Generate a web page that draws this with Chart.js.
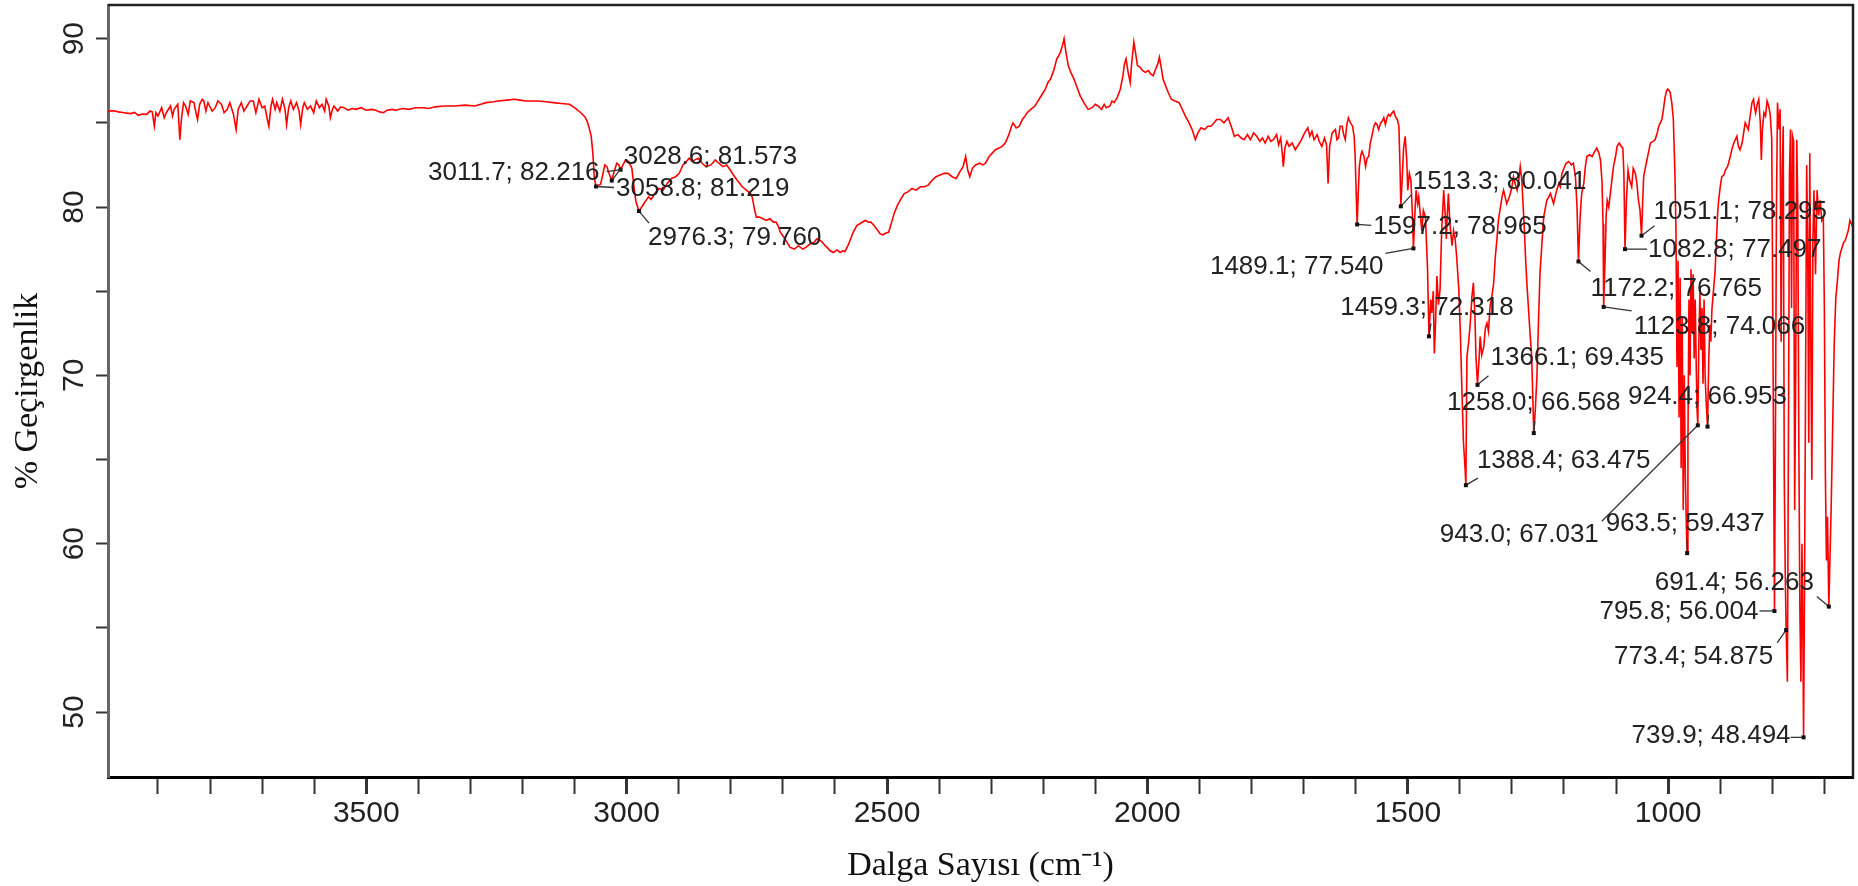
<!DOCTYPE html>
<html>
<head>
<meta charset="utf-8">
<title>FTIR spektrumu</title>
<script src="https://cdn.jsdelivr.net/npm/chart.js@4.4.1/dist/chart.umd.min.js"></script>
<style>
  html, body { margin: 0; padding: 0; background: #fff; }
  #wrap { width: 1858px; height: 886px; }
</style>
</head>
<body>
<div id="wrap"><canvas id="irChart" width="1858" height="886"></canvas></div>
<script>
// Spektrum verileri: [dalga sayısı (cm-1), % geçirgenlik]
const baseline4000 = [
  [3996, 85.7], [3985, 85.72], [3976, 85.65], [3965, 85.6], [3953, 85.55], [3945, 85.62], [3938, 85.45],
  [3930, 85.52], [3922, 85.5], [3915, 85.7], [3911, 85.65], [3907, 84.8], [3904, 85.6], [3900, 85.4],
  [3893, 85.9], [3888, 85.3], [3884, 85.6], [3876, 86.0], [3872, 85.4], [3869, 85.8], [3862, 86.1],
  [3858, 84.0], [3855, 85.2], [3851, 86.2], [3847, 86.0], [3842, 85.5], [3838, 86.3], [3831, 86.2],
  [3827, 85.6], [3824, 85.2], [3820, 86.1], [3815, 86.4], [3812, 86.3], [3808, 85.7], [3804, 86.2],
  [3801, 86.0], [3796, 85.7], [3790, 85.9], [3785, 86.3], [3778, 86.1], [3773, 85.6], [3767, 85.8],
  [3762, 86.2], [3755, 85.5], [3750, 84.6], [3746, 85.8], [3740, 86.2], [3735, 85.7], [3729, 86.0],
  [3723, 86.3], [3717, 86.3], [3712, 85.6], [3706, 86.4], [3700, 85.9], [3695, 86.0], [3690, 85.2],
  [3687, 84.8], [3683, 86.0], [3680, 86.4], [3675, 85.8], [3672, 86.2], [3666, 85.7], [3661, 86.4],
  [3656, 85.8], [3653, 84.9], [3649, 85.9], [3645, 86.3], [3640, 85.8], [3634, 86.2], [3629, 85.7],
  [3626, 84.9], [3622, 85.9], [3619, 86.2], [3613, 85.8], [3607, 86.0], [3601, 85.6], [3596, 86.3],
  [3590, 85.9], [3585, 86.1], [3580, 85.7], [3577, 86.4], [3572, 86.0], [3569, 85.3], [3565, 85.8],
  [3562, 86.0], [3555, 85.7], [3549, 85.95], [3543, 85.9], [3535, 85.75], [3527, 85.85], [3520, 85.8],
  [3510, 85.9], [3500, 85.75], [3490, 85.8], [3482, 85.75], [3474, 85.65], [3467, 85.6], [3460, 85.75],
  [3450, 85.8], [3444, 85.75], [3430, 85.85], [3418, 85.8], [3406, 85.9], [3390, 85.9], [3380, 85.85],
  [3368, 85.95], [3350, 86.0], [3330, 86.0], [3310, 86.05], [3292, 86.0], [3280, 86.1], [3270, 86.2],
  [3255, 86.25], [3247, 86.3], [3230, 86.35], [3216, 86.4], [3205, 86.35], [3194, 86.3], [3180, 86.3],
  [3171, 86.3], [3155, 86.25], [3141, 86.2], [3125, 86.15], [3110, 86.1], [3100, 85.9], [3088, 85.6],
  [3080, 85.35], [3076, 85.1], [3072, 84.7], [3068, 84.2], [3065, 83.2], [3062, 81.7]
];

const ch3000 = [
  [3058.8, 81.22], [3054, 81.3], [3050, 81.35], [3046, 81.9], [3042, 82.5], [3038, 82.4], [3034, 82.0],
  [3028.6, 81.57], [3024, 82.1], [3019, 82.6], [3015, 82.5], [3011.7, 82.22], [3007, 82.5], [3002, 82.8],
  [2996, 82.7], [2990, 82.3], [2986, 81.2], [2982, 80.3], [2976.3, 79.76], [2971, 80.0], [2965, 80.3],
  [2958, 80.6], [2953, 80.45], [2946, 80.8], [2938, 81.1], [2930, 81.0], [2922, 81.4], [2914, 81.7],
  [2906, 81.8], [2899, 82.0], [2892, 82.5], [2888, 82.6], [2880, 82.9], [2874, 82.7], [2869, 82.8],
  [2862, 82.9], [2855, 82.6], [2848, 82.4], [2838, 82.5], [2830, 82.8], [2823, 82.6], [2815, 82.4],
  [2808, 82.5], [2801, 82.2], [2795, 81.9], [2788, 81.6], [2778, 81.2], [2770, 81.0], [2762, 80.8],
  [2759, 80.6], [2754, 79.8], [2751, 79.4], [2745, 79.4], [2738, 79.3], [2732, 79.2], [2725, 79.3],
  [2718, 79.1], [2713, 79.1], [2708, 78.8], [2705, 78.5], [2698, 78.2], [2692, 77.9], [2686, 77.6],
  [2678, 77.5], [2670, 77.7], [2662, 77.5], [2656, 77.6], [2648, 77.8], [2640, 77.9], [2635, 78.1],
  [2630, 78.05], [2624, 77.9], [2619, 77.7], [2615, 77.6], [2609, 77.4], [2603, 77.3], [2596, 77.45],
  [2590, 77.3], [2585, 77.4], [2581, 77.35], [2575, 77.7], [2570, 78.1], [2565, 78.5], [2558, 78.9],
  [2550, 79.05], [2542, 79.2], [2535, 79.1], [2531, 79.1], [2525, 78.9], [2519, 78.65], [2513, 78.4],
  [2508, 78.35], [2502, 78.45], [2497, 78.5], [2492, 79.0], [2486, 79.65], [2480, 80.1], [2473, 80.5],
  [2467, 80.8], [2460, 80.9], [2452, 81.1], [2444, 81.0], [2436, 81.2], [2428, 81.2], [2421, 81.3],
  [2413, 81.6], [2406, 81.8], [2398, 81.9], [2390, 82.0], [2383, 82.0], [2375, 81.8], [2367, 81.7],
  [2360, 82.1], [2354, 82.4], [2349, 83.0], [2345, 82.2], [2341, 81.8], [2336, 82.3], [2330, 82.5],
  [2322, 82.6], [2316, 82.5], [2311, 82.6], [2304, 83.0]
];

const hump2200 = [
  [2298, 83.2], [2292, 83.4], [2285, 83.5], [2279, 83.6], [2273, 83.8], [2266, 84.3], [2261, 84.8],
  [2258, 85.0], [2252, 84.7], [2246, 84.8], [2240, 85.2], [2235, 85.4], [2231, 85.6], [2224, 85.8],
  [2216, 86.0], [2212, 86.2], [2208, 86.4], [2202, 86.7], [2196, 87.0], [2191, 87.4], [2186, 87.6],
  [2180, 88.1], [2174, 88.8], [2170, 89.0], [2167, 89.2], [2163, 89.6], [2160, 90.0], [2157, 89.3],
  [2152, 88.4], [2147, 88.0], [2141, 87.6], [2135, 87.1], [2129, 86.6], [2122, 86.2], [2114, 85.8],
  [2106, 85.9], [2100, 86.1], [2095, 86.0], [2088, 85.8], [2083, 86.1], [2079, 85.9], [2072, 86.0],
  [2068, 86.3], [2064, 86.2], [2058, 86.5], [2052, 87.0], [2047, 87.8], [2044, 88.5], [2041, 88.8],
  [2037, 88.0], [2033, 87.4], [2030, 88.6], [2026, 89.8], [2023, 89.2], [2019, 88.4], [2014, 88.3],
  [2009, 88.1], [2004, 88.0], [1998, 88.1], [1994, 87.9], [1989, 87.8], [1984, 88.2], [1980, 88.5],
  [1977, 88.9], [1973, 88.2], [1970, 87.6], [1965, 87.2], [1960, 86.8], [1954, 86.4], [1947, 86.3],
  [1939, 86.2], [1933, 85.8], [1927, 85.4], [1920, 85.0], [1914, 84.6], [1908, 84.0], [1903, 84.4],
  [1897, 84.7], [1890, 84.6], [1884, 84.8], [1878, 84.8], [1872, 85.0]
];

const band1600 = [
  [1867, 85.2], [1860, 85.2], [1853, 85.0], [1845, 85.3], [1839, 84.8], [1833, 84.2], [1826, 84.3],
  [1820, 84.1], [1814, 84.0], [1808, 84.3], [1802, 84.0], [1796, 84.4], [1790, 84.2], [1784, 83.9],
  [1779, 84.1], [1774, 83.8], [1768, 84.2], [1763, 83.9], [1758, 84.0], [1752, 84.3], [1748, 83.7],
  [1744, 84.1], [1741, 83.2], [1739, 82.4], [1736, 83.5], [1732, 83.9], [1728, 83.6], [1722, 83.8],
  [1716, 83.4], [1710, 83.7], [1704, 84.0], [1698, 84.4], [1692, 84.7], [1688, 84.2], [1684, 84.5],
  [1680, 84.0], [1674, 84.3], [1670, 83.9], [1665, 83.6], [1660, 84.1], [1656, 83.7], [1653, 81.4],
  [1650, 83.6], [1645, 84.4], [1639, 84.6], [1636, 84.0], [1633, 84.1], [1630, 84.8], [1626, 84.8],
  [1623, 84.3], [1620, 84.0], [1617, 84.9], [1614, 85.3], [1610, 85.0], [1606, 84.8], [1603, 84.2],
  [1601, 83.0], [1599, 80.8], [1597.2, 78.97], [1595, 80.9], [1593, 82.4], [1590, 83.1], [1588, 83.3],
  [1584, 83.0], [1581, 82.4], [1578, 82.9], [1575, 83.0], [1572, 83.8], [1569, 84.2], [1565, 84.8],
  [1562, 85.0], [1559, 84.9], [1556, 84.6], [1552, 85.0], [1549, 85.1], [1546, 85.3], [1543, 84.9],
  [1540, 85.3], [1537, 85.5], [1534, 85.4], [1530, 85.6], [1527, 85.7], [1524, 85.4], [1520, 85.2],
  [1517, 84.8], [1515, 82.5], [1513.3, 80.04], [1511, 81.5], [1508, 83.5], [1505, 84.2], [1502, 82.8],
  [1500, 81.0], [1497, 82.0], [1494, 81.6], [1491, 79.5], [1489.1, 77.54], [1486, 79.8], [1484, 81.0],
  [1481, 80.2], [1479, 80.6], [1476, 79.6], [1473, 78.6], [1470, 79.8], [1466, 79.4], [1464, 77.8],
  [1462, 76.3], [1459.3, 72.32], [1456, 74.5], [1454, 73.7], [1451, 75.0], [1449, 71.3], [1447, 72.8],
  [1444, 75.9], [1441, 74.2], [1438, 75.1], [1435, 78.5], [1431, 81.0], [1428, 79.5], [1426, 78.1],
  [1424, 79.6], [1422, 80.8], [1419, 79.0], [1415, 77.7], [1412, 78.6], [1409, 78.1], [1406, 77.0],
  [1402, 75.1], [1399, 72.5], [1396, 69.1], [1393, 66.0], [1390, 64.5], [1388.4, 63.48], [1386.4, 71.1],
  [1383, 72.0], [1380, 73.1], [1377, 74.6], [1374, 75.5], [1371, 73.5], [1369, 71.1], [1366.1, 69.44],
  [1363, 71.0], [1361, 72.3], [1358, 71.2], [1354, 71.7], [1351, 72.8], [1348, 73.1], [1345, 72.6],
  [1342, 74.1], [1338, 74.8], [1335, 75.5], [1332, 77.0], [1329, 78.0], [1326, 79.2], [1322, 80.0],
  [1319, 80.6], [1316, 81.0], [1313, 80.6], [1310, 80.2], [1306, 80.5], [1303, 80.8], [1300, 81.2],
  [1297, 81.8], [1293, 81.3], [1290, 81.0], [1287, 81.6], [1284, 82.4], [1281, 81.6], [1279, 80.4],
  [1276, 78.6], [1274, 77.1], [1271, 75.3], [1268, 73.9], [1265, 72.4], [1262, 71.1], [1260, 68.8],
  [1258, 66.57], [1255, 68.0], [1252, 69.9], [1249, 73.2], [1246, 76.1], [1242, 78.0]
];

const finger1200 = [
  [1239, 79.4], [1236, 79.9], [1233, 80.4], [1229, 80.6], [1226, 80.8], [1223, 80.5], [1220, 80.2],
  [1217, 80.6], [1214, 81.0], [1210, 81.4], [1207, 81.2], [1204, 82.0], [1200, 82.3], [1196, 82.6],
  [1191, 82.7], [1186, 82.5], [1182, 82.6], [1178, 81.8], [1175, 80.0], [1172.2, 76.77], [1169, 79.4],
  [1166, 80.8], [1162, 81.4], [1159, 82.4], [1156, 83.0], [1151, 83.1], [1146, 83.0], [1141, 83.3],
  [1137, 83.5], [1133, 83.2], [1130, 82.8], [1127, 81.5], [1125, 79.0], [1123.8, 74.07], [1121, 77.0],
  [1119, 79.5], [1117, 80.4], [1114, 80.0], [1111, 80.8], [1108, 81.6], [1105, 82.4], [1101, 83.0],
  [1098, 83.6], [1094, 83.8], [1090, 83.6], [1087, 83.5], [1085, 82.0], [1082.8, 77.5], [1080, 80.5],
  [1077, 82.2], [1074, 81.6], [1070, 81.2], [1067, 82.3], [1063, 82.0], [1060, 81.4], [1057, 80.4],
  [1054, 79.8], [1051.1, 78.3], [1049, 80.2], [1047, 81.8], [1044, 82.3], [1042, 82.6], [1038, 83.2],
  [1034, 83.8], [1029, 83.9], [1025, 84.0], [1021, 84.4], [1018, 84.8], [1015, 85.0], [1012, 85.2],
  [1009, 85.8], [1006, 86.5], [1003, 86.9], [1001, 87.0], [998, 86.9], [996, 86.8], [993, 86.2],
  [990, 85.2]
];

const finger900 = [
  [987, 82.0], [985, 78.8], [983, 70.5], [981, 76.8], [979, 67.5], [977, 75.8], [975, 64.5], [973, 73.5],
  [971, 62.0], [969, 70.0], [967, 64.0], [965, 61.0], [963.5, 59.44], [962, 66.0], [960, 74.5], [958, 70.0],
  [956, 76.3], [954, 72.5], [952, 76.0], [950, 71.0], [948, 74.5], [946, 70.5], [944.5, 68.0], [943, 67.03],
  [941, 72.0], [939, 74.9], [937, 71.5], [935, 74.0], [933, 69.5], [931, 74.5], [929, 70.0], [927, 68.5],
  [924.4, 66.95], [922, 70.9], [920, 73.0], [918, 72.0], [916, 73.9], [913, 75.0], [910, 76.1], [907, 78.2],
  [905, 79.6], [903, 80.4], [900, 81.2], [897, 81.8], [893, 81.9], [890, 82.2], [886, 82.4], [884, 82.6],
  [880, 83.1], [877, 83.5], [874, 83.8], [871, 84.0], [868, 84.2], [865, 83.6], [862, 83.4], [858, 83.8],
  [855, 84.4], [852, 85.0], [849, 84.8], [846, 84.6], [843, 85.3], [839, 86.2], [836, 86.4], [834, 85.9],
  [832, 85.6], [829, 86.1], [826, 86.4], [823, 85.0], [821, 82.8], [819, 84.6], [816, 85.6], [813, 85.4],
  [810, 86.3], [807, 86.0], [804, 85.5], [801, 84.0], [798, 68.0], [795.8, 56.0], [794, 66.0], [792, 80.0],
  [790, 86.2], [787, 84.6], [785, 85.8], [783, 72.0], [781, 82.0], [779, 84.8], [777, 64.0], [775, 58.0],
  [773.4, 54.88], [771, 51.8], [769, 66.0], [767, 82.0], [765, 84.6], [763, 74.0], [761, 84.2], [759, 83.9],
  [757, 62.0], [755, 70.0], [753, 84.0], [751, 80.0], [749, 66.0], [747, 56.0], [745, 51.8], [743, 60.0],
  [741, 54.0], [739.9, 48.49], [738, 58.0], [736, 70.0], [734, 82.5], [732, 78.0], [730, 66.0], [728, 83.2],
  [726, 72.0], [724, 63.8], [722, 78.0], [720, 81.0], [717, 76.0], [714, 81.0], [711, 79.5], [708, 80.4],
  [705, 79.2], [702, 79.4], [700, 74.0], [698, 64.0], [696, 59.0], [694, 61.6], [691.4, 56.26], [689, 59.5],
  [687, 62.0], [684, 67.0], [681, 72.0], [678, 74.6], [675, 75.6], [672, 76.8], [669, 77.3], [666, 77.6],
  [663, 77.9], [660, 78.0], [657, 78.3], [654, 78.6], [651, 79.2], [648, 79.0], [645, 78.8]
];

// İşaretlenen pikler
const peakWavenumbers = [3011.7, 3028.6, 3058.8, 2976.3, 1597.2, 1513.3, 1489.1, 1459.3, 1388.4, 1366.1, 1258.0,
  1172.2, 1123.8, 1082.8, 1051.1, 963.5, 943.0, 924.4, 795.8, 773.4, 739.9, 691.4];
const peakTransmittance = [82.216, 81.573, 81.219, 79.760, 78.965, 80.041, 77.540, 72.318, 63.475, 69.435, 66.568,
  76.765, 74.066, 77.497, 78.295, 59.437, 67.031, 66.953, 56.004, 54.875, 48.494, 56.263];

// Eksen etiketleri
const xTickLabels = [3500, 3000, 2500, 2000, 1500, 1000];
const yTickLabels = [50, 60, 70, 80, 90];

const spectrum = [].concat(baseline4000, ch3000, hump2200, band1600, finger1200, finger900)
  .map(p => ({ x: p[0], y: p[1] }));

// Etiket yerleşimi: [metin dx, metin dy, hizalama, çizgi ucu dx, çizgi ucu dy] (piksel, pik noktasına göre)
const labelLayout = [
  [-21, 3, 'right', -14, 2], [12, -24, 'left', 9, -12], [20, 2, 'left', 18, 1], [9, 27, 'left', 10, 12],
  [16, 2, 'left', 14, 1], [12, -24, 'left', 11, -12], [-30, 18, 'right', -28, 5], [-2, -28, 'center', 2, -13],
  [11, -24, 'left', 12, -7], [13, -27, 'left', 11, -9], [0, -30, 'center', 1, -12], [12, 27, 'left', 12, 10],
  [30, 20, 'left', 28, 4], [23, 1, 'left', 22, 0], [12, -24, 'left', 13, -10], [-2, -29, 'center', 0, -14],
  [-99, 110, 'right', -96, 96], [0, -30, 'center', 1, -12], [-16, 1, 'right', -15, 0], [-13, 27, 'right', -9, 13],
  [-13, -2, 'right', -13, 0], [-15, -24, 'right', -12, -10]
];

// Grafik çerçevesinin üst ve sağ kenarı
const framePlugin = {
  id: 'frame',
  afterDraw(chart) {
    const { ctx, chartArea: a } = chart;
    ctx.save();
    ctx.strokeStyle = '#222';
    ctx.lineWidth = 2.5;
    ctx.beginPath();
    ctx.moveTo(a.left, a.top);
    ctx.lineTo(a.right, a.top);
    ctx.lineTo(a.right, a.bottom);
    ctx.stroke();
    ctx.restore();
  }
};

// Pik etiketleri ve bağlantı çizgileri
const peakLabelPlugin = {
  id: 'peakLabels',
  afterDatasetsDraw(chart) {
    const { ctx, scales: { x, y } } = chart;
    ctx.save();
    ctx.font = '26px "Liberation Sans", Arial, sans-serif';
    ctx.textBaseline = 'middle';
    peakWavenumbers.forEach((wn, i) => {
      const t = peakTransmittance[i];
      const px = x.getPixelForValue(wn);
      const py = y.getPixelForValue(t);
      const [dx, dy, align, lx, ly] = labelLayout[i];
      ctx.strokeStyle = '#333';
      ctx.lineWidth = 1.3;
      ctx.beginPath();
      ctx.moveTo(px, py);
      ctx.lineTo(px + lx, py + ly);
      ctx.stroke();
      ctx.fillStyle = '#111';
      ctx.fillRect(px - 2, py - 2, 4, 4);
      ctx.fillStyle = '#222';
      ctx.textAlign = align;
      ctx.fillText(wn.toFixed(1) + '; ' + t.toFixed(3), px + dx, py + dy);
    });
    ctx.restore();
  }
};

const tickFont = { family: '"Liberation Sans", Arial, sans-serif', size: 30 };
const titleFont = { family: '"Liberation Serif", "Times New Roman", serif', size: 34 };

const ctx = document.getElementById('irChart').getContext('2d');
const chart = new Chart(ctx, {
  type: 'line',
  data: {
    datasets: [{
      data: spectrum,
      borderColor: '#ff0000',
      borderWidth: 1.6,
      pointRadius: 0,
      tension: 0,
      fill: false
    }]
  },
  options: {
    responsive: false,
    devicePixelRatio: 1,
    animation: false,
    layout: { padding: { top: 5, right: 5, left: 0, bottom: 0 } },
    plugins: { legend: { display: false }, tooltip: { enabled: false } },
    scales: {
      x: {
        type: 'linear',
        reverse: true,
        min: 645,
        max: 3996,
        afterFit: scale => {
          scale.height = 109;
          scale.paddingLeft = 0;
          scale.paddingRight = 0;
        },
        border: { display: true, color: '#000', width: 3 },
        grid: {
          drawOnChartArea: false,
          drawTicks: true,
          tickLength: 17,
          tickColor: '#333',
          tickWidth: c => (c.tick && c.tick.value % 500 === 0) ? 3 : 2
        },
        ticks: {
          stepSize: 100,
          includeBounds: false,
          autoSkip: false,
          minRotation: 0,
          maxRotation: 0,
          padding: 2,
          color: '#222',
          font: tickFont,
          callback: v => xTickLabels.includes(v) ? String(v) : ''
        },
        title: {
          display: true,
          text: 'Dalga Sayısı (cm⁻¹)',
          color: '#111',
          font: titleFont,
          padding: { top: 12, bottom: 0 }
        }
      },
      y: {
        type: 'linear',
        min: 46.14,
        max: 92.0,
        afterFit: scale => {
          scale.width = 108;
          scale.paddingTop = 0;
          scale.paddingBottom = 0;
        },
        border: { display: true, color: '#666', width: 3 },
        grid: { drawOnChartArea: false, drawTicks: true, tickLength: 12, tickColor: '#333', tickWidth: 2 },
        ticks: {
          stepSize: 5,
          includeBounds: false,
          minRotation: 90,
          maxRotation: 90,
          crossAlign: 'center',
          padding: 5,
          color: '#222',
          font: tickFont,
          callback: v => yTickLabels.includes(v) ? String(v) : ''
        },
        title: {
          display: true,
          text: '% Geçirgenlik',
          color: '#111',
          font: titleFont,
          padding: { top: 8, bottom: 0 }
        }
      }
    }
  },
  plugins: [framePlugin, peakLabelPlugin]
});
</script>
</body>
</html>
